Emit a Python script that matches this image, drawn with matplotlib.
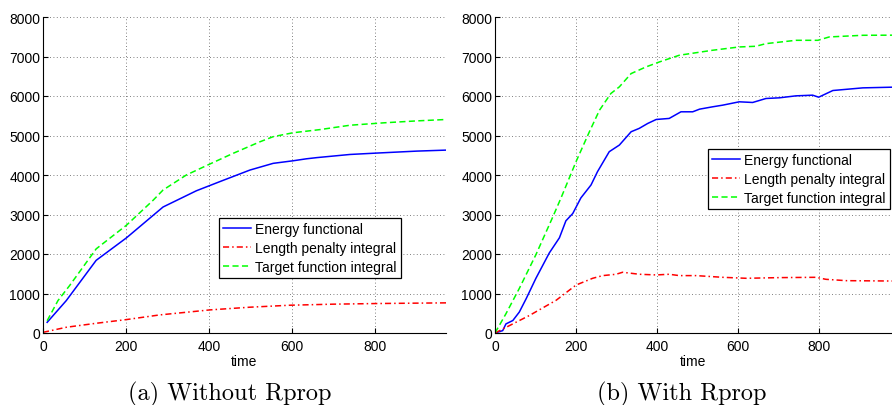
import matplotlib
matplotlib.use("Agg")
import matplotlib.pyplot as plt

# (a) without Rprop
t_energy_a = [10, 56, 128, 201, 289, 330, 369, 430, 498, 554, 602, 634, 659, 739, 803, 900, 970]
energy_a = [270, 820, 1840, 2410, 3190, 3400, 3600, 3850, 4125, 4295, 4360, 4410, 4440, 4520, 4555, 4605, 4630]
t_target_a = [10, 36, 64, 128, 201, 265, 289, 345, 402, 458, 522, 554, 602, 667, 739, 819, 900, 970]
target_a = [310, 820, 1200, 2130, 2730, 3360, 3620, 4000, 4280, 4550, 4840, 4970, 5070, 5150, 5260, 5320, 5370, 5405]
t_length_a = [0, 56, 128, 201, 281, 345, 402, 498, 594, 699, 803, 970]
length_a = [17, 145, 246, 340, 458, 525, 585, 653, 703, 730, 746, 763]

# (b) with Rprop
t_energy_b = [0, 19, 27, 44, 60, 77, 101, 134, 159, 175, 192, 212, 237, 253, 282, 307, 336, 356,
              377, 398, 430, 459, 488, 505, 537, 562, 603, 636, 669, 702, 743, 784, 799, 834, 908, 980]
energy_b = [0, 60, 230, 316, 530, 870, 1385, 2026, 2410, 2840, 3026, 3420, 3747, 4084, 4590, 4758, 5095, 5180,
            5305, 5406, 5432, 5600, 5600, 5667, 5726, 5768, 5853, 5836, 5937, 5954, 6004, 6021, 5970, 6139, 6206, 6223]
t_target_b = [0, 27, 60, 101, 142, 163, 200, 233, 258, 286, 307, 336, 373, 406, 455, 537, 603, 644,
              669, 743, 797, 825, 908, 980]
target_b = [0, 487, 1128, 1983, 2923, 3420, 4337, 5095, 5642, 6063, 6232, 6568, 6737, 6863, 7032, 7158, 7242, 7259,
            7326, 7410, 7410, 7495, 7537, 7540]
t_length_b = [0, 44, 85, 151, 200, 241, 266, 299, 315, 356, 398, 430, 455, 496, 562, 620, 702, 792, 817, 867, 980]
length_b = [0, 231, 444, 829, 1214, 1385, 1453, 1487, 1538, 1487, 1470, 1487, 1453, 1453, 1410, 1385, 1402,
            1410, 1359, 1325, 1316]

labels = ["Energy functional", "Length penalty integral", "Target function integral"]
xticks = [0, 200, 400, 600, 800]
yticks = [0, 1000, 2000, 3000, 4000, 5000, 6000, 7000, 8000]

plt.rcParams["font.family"] = ["Liberation Sans", "DejaVu Sans"]
plt.rcParams["font.size"] = 10

fig = plt.figure(figsize=(8.92, 4.06), dpi=100)
ax_a = fig.add_axes([43 / 892, 72 / 406, 403 / 892, 316 / 406])
ax_b = fig.add_axes([495 / 892, 72 / 406, 397 / 892, 316 / 406])


def draw(ax, te, e, tl, l, tt, g, xmax, leg_x, leg_top, caption, cap_x):
    ax.plot(te, e, color="blue", lw=1.1, label=labels[0])
    ax.plot(tl, l, color="red", lw=1.1, dashes=(4, 2, 1, 2), label=labels[1])
    ax.plot(tt, g, color="#00ff00", lw=1.1, dashes=(4, 2.2), label=labels[2])
    ax.set_xlim(0, xmax)
    ax.set_ylim(0, 8000)
    ax.set_xticks(xticks)
    ax.set_yticks(yticks)
    ax.tick_params(direction="in", length=3.5, width=0.8)
    ax.tick_params(axis="x", pad=4)
    ax.tick_params(axis="y", pad=2)
    ax.grid(True, color="#555555", linestyle=(0, (1, 3)), linewidth=0.6)
    ax.spines["top"].set_visible(False)
    ax.spines["right"].set_visible(False)
    ax.set_xlabel("time", labelpad=1)
    leg = ax.legend(loc="upper left", bbox_to_anchor=(leg_x, leg_top), fancybox=False,
                    edgecolor="black", framealpha=1, handlelength=2.0, handletextpad=0.3,
                    labelspacing=0.35, borderpad=0.3, borderaxespad=0)
    leg.get_frame().set_linewidth(0.9)
    fig.text(cap_x / 892, 1 - 382 / 406, caption, ha="center", va="top",
             family="cmr10", fontsize=17.5)


draw(ax_a, t_energy_a, energy_a, t_length_a, length_a, t_target_a, target_a, 970, 0.437, 0.364,
     "(a) Without Rprop", 230)
draw(ax_b, t_energy_b, energy_b, t_length_b, length_b, t_target_b, target_b, 980, 0.537, 0.582,
     "(b) With Rprop", 682)

fig.savefig("out.png", dpi=100)
plt.close(fig)
